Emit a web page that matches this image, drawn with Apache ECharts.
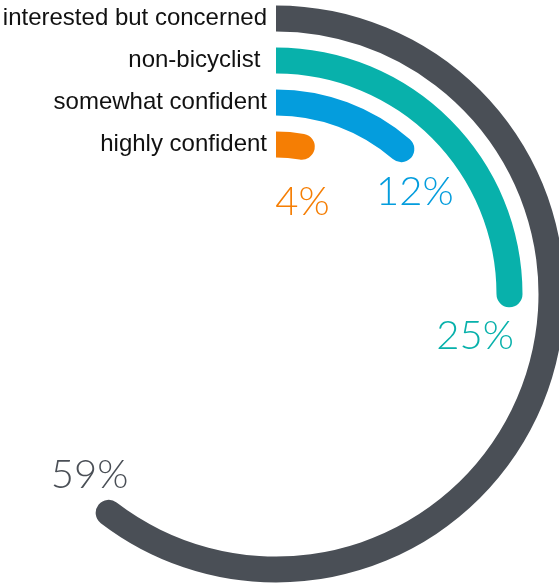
<!DOCTYPE html>
<html>
<head>
<meta charset="utf-8">
<script src="https://cdn.jsdelivr.net/npm/echarts@6/dist/echarts.min.js"></script>
<style>
html,body{margin:0;padding:0;background:#fff;}
#chart{width:559px;height:583px;}
</style>
</head>
<body>
<div id="chart"></div>
<script>
// Categories from inner ring to outer ring
const categories = ['highly confident', 'somewhat confident', 'non-bicyclist ', 'interested but concerned'];
// Share of respondents (%)
const shares = [4, 12, 25, 59];
const valueLabels = ['4%', '12%', '25%', '59%'];

const colors = ['#f57e04', '#049ddd', '#08b1ab', '#4a4f56'];
const labelOffsets = [[-12, 53], [4, 34], [-34, 29], [-9, -30]];

const chart = echarts.init(document.getElementById('chart'), null, {renderer: 'canvas'});

const option = {
  animation: false,
  polar: {
    center: [276, 294],
    radius: [128.5, 296.5]
  },
  angleAxis: {
    type: 'value',
    min: 0,
    max: 96.5,
    startAngle: 90,
    clockwise: true,
    show: false
  },
  radiusAxis: {
    type: 'category',
    data: categories,
    axisLine: {show: false},
    axisTick: {show: false},
    splitLine: {show: false},
    axisLabel: {
      show: true,
      interval: 0,
      hideOverlap: false,
      margin: 9,
      color: '#111111',
      fontSize: 24,
      fontFamily: 'Liberation Sans, Arial, sans-serif'
    }
  },
  series: [{
    type: 'bar',
    coordinateSystem: 'polar',
    barWidth: 26,
    roundCap: false,
    data: shares.map((v, i) => ({
      value: v,
      itemStyle: {color: colors[i], borderRadius: [0, 13, 0, 13]},
      label: {
        show: true,
        position: 'end',
        distance: 0,
        rotate: 0,
        formatter: valueLabels[i],
        color: colors[i],
        fontSize: 40,
        fontWeight: 300,
        fontFamily: 'Lato, sans-serif',
        align: 'center',
        verticalAlign: 'middle',
        offset: labelOffsets[i]
      }
    }))
  }]
};
chart.setOption(option);
</script>
</body>
</html>
